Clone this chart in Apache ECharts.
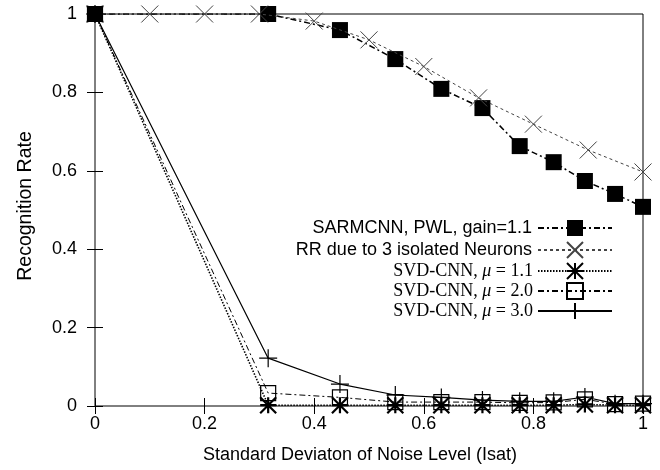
<!DOCTYPE html>
<html>
<head>
<meta charset="utf-8">
<script src="https://cdn.jsdelivr.net/npm/echarts@6/dist/echarts.min.js"></script>
<style>
html,body{margin:0;padding:0;background:#fff}
#chart{width:660px;height:470px}
</style>
</head>
<body>
<div id="chart"></div>
<script>
// x positions (noise std) for the network curves, and for the isolated neuron estimate
var xNoise = [0, 0.316, 0.447, 0.548, 0.632, 0.707, 0.775, 0.837, 0.894, 0.949, 1];
var xIsolated = [0, 0.1, 0.2, 0.3, 0.4, 0.5, 0.6, 0.7, 0.8, 0.9, 1];

var sarmcnn  = [1, 1, 0.959, 0.885, 0.809, 0.760, 0.663, 0.622, 0.574, 0.541, 0.508];
var isolated = [1, 1, 1, 1, 0.982, 0.934, 0.866, 0.786, 0.719, 0.653, 0.597];
var svd11    = [1, 0.002, 0.002, 0.002, 0.002, 0.002, 0.002, 0.002, 0.004, 0.002, 0.002];
var svd20    = [1, 0.033, 0.022, 0.010, 0.010, 0.010, 0.008, 0.009, 0.017, 0.005, 0.006];
var svd30    = [1, 0.122, 0.056, 0.028, 0.022, 0.015, 0.012, 0.012, 0.023, 0.006, 0.006];

var seriesNames = [
  'SARMCNN, PWL, gain=1.1',
  'RR due to 3 isolated Neurons',
  'SVD-CNN, mu = 1.1',
  'SVD-CNN, mu = 2.0',
  'SVD-CNN, mu = 3.0'
];
var xTicks = ['0', '0.2', '0.4', '0.6', '0.8', '1'];

function pairs(xs, ys) {
  var out = [];
  for (var i = 0; i < xs.length; i++) out.push([xs[i], ys[i]]);
  return out;
}

var SANS = 'Liberation Sans, Arial, Helvetica, sans-serif';
var SERIF = 'Liberation Serif, Times New Roman, serif';

var crossPath = 'path://M0,0L10,10M10,0L0,10';
var starPath = 'path://M0,0L10,10M10,0L0,10M5,0L5,10M0,5L10,5';
var plusPath = 'path://M5,0L5,10M0,5L10,5';

function tickLabel(v) {
  return String(+v.toFixed(1));
}

var chart = echarts.init(document.getElementById('chart'));

function svdLegend(name) {
  var parts = name.split('mu');
  return '{s|' + parts[0] + '}{m|\u03bc}{s|' + parts[1] + '}';
}

// one legend per entry so the icons line up on the right
var legendBase = function (name, top, serif) {
  var l = {
    data: [name],
    right: 47,
    top: top,
    orient: 'horizontal',
    align: 'right',
    itemWidth: 74,
    itemHeight: 20,
    itemGap: 2,
    padding: 0,
    selectedMode: false,
    textStyle: {fontFamily: SANS, fontSize: 18, color: '#000', padding: [0, 1, 0, 0]}
  };
  if (serif) {
    l.formatter = svdLegend;
    l.textStyle = {
      fontFamily: SERIF, fontSize: 18, color: '#000', padding: [0, 0, 0, 0],
      rich: {
        s: {fontFamily: SERIF, fontSize: 18, color: '#000'},
        m: {fontFamily: SERIF, fontSize: 18, fontStyle: 'italic', color: '#000'}
      }
    };
  }
  return l;
};

var option = {
  backgroundColor: '#fff',
  animation: false,
  grid: {
    left: 95, right: 17, top: 14, bottom: 64,
    show: true, borderColor: '#000', borderWidth: 1, backgroundColor: 'transparent'
  },
  legend: [
    legendBase(seriesNames[0], 219, false),
    legendBase(seriesNames[1], 241, false),
    legendBase(seriesNames[2], 262, true),
    legendBase(seriesNames[3], 282, true),
    legendBase(seriesNames[4], 302, true)
  ],
  xAxis: [{
    type: 'value', min: 0, max: 1, interval: 0.2,
    name: 'Standard Deviaton of Noise Level (Isat)',
    nameLocation: 'middle', nameGap: 40,
    nameTextStyle: {fontFamily: SANS, fontSize: 18, color: '#000', padding: [0, 18, 0, 0]},
    axisLine: {show: false},
    axisTick: {show: true, inside: true, length: 8, lineStyle: {color: '#000'}},
    axisLabel: {fontFamily: SANS, fontSize: 18, color: '#000', margin: 9,
      formatter: function (v) { return xTicks[Math.round(v / 0.2)]; }},
    splitLine: {show: false}
  }, {
    type: 'value', min: 0, max: 1, interval: 0.2, position: 'top',
    axisLine: {show: false},
    axisTick: {show: true, inside: true, length: 8, lineStyle: {color: '#000'}},
    axisLabel: {show: false},
    splitLine: {show: false}
  }],
  yAxis: [{
    type: 'value', min: 0, max: 1, interval: 0.2,
    name: 'Recognition Rate',
    nameLocation: 'middle', nameGap: 59,
    nameTextStyle: {fontFamily: SANS, fontSize: 19.5, color: '#000', padding: [0, 0, 0, 8]},
    axisLine: {show: false},
    axisTick: {show: true, inside: true, length: 8, lineStyle: {color: '#000'}},
    axisLabel: {fontFamily: SANS, fontSize: 18, color: '#000', margin: 18, formatter: tickLabel},
    splitLine: {show: false}
  }, {
    type: 'value', min: 0, max: 1, interval: 0.2, position: 'right',
    axisLine: {show: false},
    axisTick: {show: true, inside: true, length: 8, lineStyle: {color: '#000'}},
    axisLabel: {show: false},
    splitLine: {show: false}
  }],
  series: [
    {
      name: seriesNames[0], type: 'line', data: pairs(xNoise, sarmcnn),
      symbol: 'rect', symbolSize: 16,
      itemStyle: {color: '#000'},
      lineStyle: {color: '#000', width: 1.5, type: [6, 3, 2, 3]},
      z: 3
    },
    {
      name: seriesNames[1], type: 'line', data: pairs(xIsolated, isolated),
      symbol: crossPath, symbolSize: 17,
      itemStyle: {color: 'rgba(0,0,0,0)', borderColor: '#444', borderWidth: 1},
      lineStyle: {color: '#444', width: 1, type: [3, 3]},
      z: 4
    },
    {
      name: seriesNames[2], type: 'line', data: pairs(xNoise, svd11),
      symbol: starPath, symbolSize: 16,
      itemStyle: {color: 'rgba(0,0,0,0)', borderColor: '#000', borderWidth: 2.2},
      lineStyle: {color: '#000', width: 1.6, type: [1.5, 1.5]},
      z: 5
    },
    {
      name: seriesNames[3], type: 'line', data: pairs(xNoise, svd20),
      symbol: 'rect', symbolSize: 15,
      itemStyle: {color: 'rgba(0,0,0,0)', borderColor: '#000', borderWidth: 1.2},
      lineStyle: {color: '#000', width: 1, type: [6, 3, 2, 3]},
      z: 6
    },
    {
      name: seriesNames[4], type: 'line', data: pairs(xNoise, svd30),
      symbol: plusPath, symbolSize: 18,
      itemStyle: {color: 'rgba(0,0,0,0)', borderColor: '#000', borderWidth: 1.2},
      lineStyle: {color: '#000', width: 1.2, type: 'solid'},
      z: 7
    }
  ]
};

chart.setOption(option);
</script>
</body>
</html>
